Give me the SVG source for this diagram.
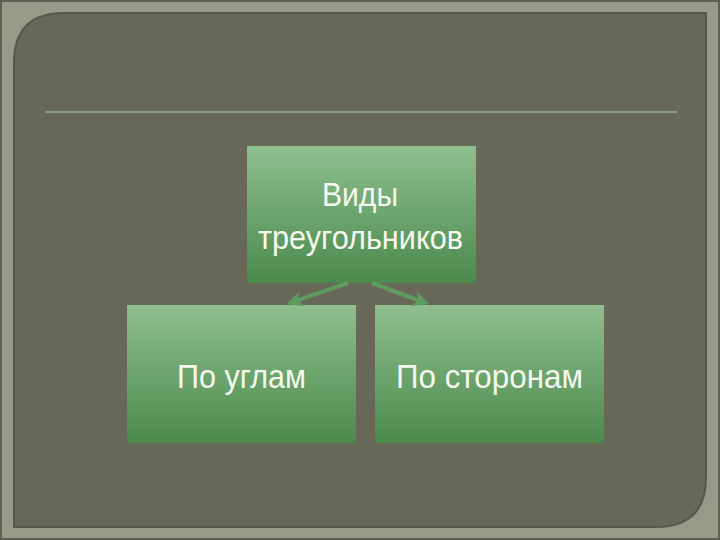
<svg xmlns="http://www.w3.org/2000/svg" width="720" height="540" viewBox="0 0 720 540">
<style>
.box{stroke:none}
.t{font-family:"Liberation Sans Narrow","Liberation Sans",Arial,sans-serif;fill:#f4f8ee;font-size:34px}
.c{stroke:#5f9a5f;stroke-width:4;fill:none;marker-end:url(#ah)}
</style>
<defs>
<linearGradient id="g" x1="0" y1="0" x2="0" y2="1">
<stop offset="0" stop-color="#8fbf8f"/>
<stop offset="1" stop-color="#4a8a4c"/>
</linearGradient>
<marker id="ah" viewBox="0 0 10 10" refX="8" refY="5" markerWidth="4" markerHeight="4" orient="auto" markerUnits="strokeWidth">
<path d="M0,0 L10,5 L0,10 L3,5 Z" fill="#5f9a5f"/>
</marker>
</defs>
<rect x="0" y="0" width="720" height="540" fill="#979a87"/>
<rect x="1" y="1" width="718" height="538" fill="none" stroke="#5d5f50" stroke-width="2"/>
<path d="M64,13 L706,13 L706,477 Q706,527 656,527 L14,527 L14,63 Q14,13 64,13 Z" fill="#676858" stroke="#56584a" stroke-width="2"/>
<line x1="45" y1="112" x2="677" y2="112" stroke="#8a9c84" stroke-width="2"/>
<g id="top">
<rect class="box" x="247" y="146" width="229" height="137" fill="url(#g)"/>
<text class="t" x="322" y="206" textLength="76" lengthAdjust="spacingAndGlyphs">Виды</text>
<text class="t" x="258" y="249" textLength="205" lengthAdjust="spacingAndGlyphs">треугольников</text>
</g>
<g id="left">
<rect class="box" x="127" y="305" width="229" height="138" fill="url(#g)"/>
<text class="t" x="177" y="388" textLength="129" lengthAdjust="spacingAndGlyphs">По углам</text>
</g>
<g id="right">
<rect class="box" x="375" y="305" width="229" height="138" fill="url(#g)"/>
<text class="t" x="396" y="388" textLength="187" lengthAdjust="spacingAndGlyphs">По сторонам</text>
</g>
<g id="connectors">
<line class="c" x1="348" y1="283" x2="290" y2="303"/>
<line class="c" x1="372" y1="283" x2="426" y2="303"/>
</g>
</svg>
